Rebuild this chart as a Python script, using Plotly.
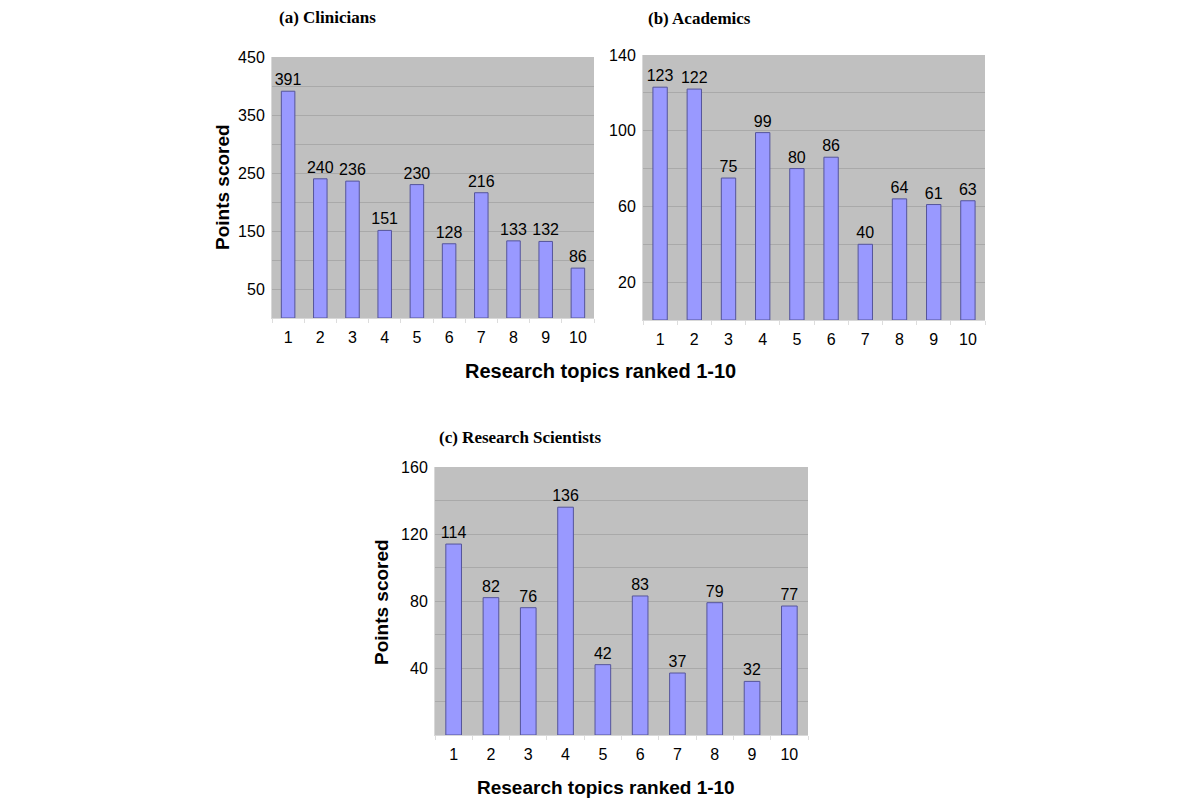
import plotly.graph_objects as go

topics = list(range(1, 11))
clinicians = [391, 240, 236, 151, 230, 128, 216, 133, 132, 86]
academics = [123, 122, 75, 99, 80, 86, 40, 64, 61, 63]
scientists = [114, 82, 76, 136, 42, 83, 37, 79, 32, 77]

titles = ["(a) Clinicians", "(b) Academics", "(c) Research Scientists"]
y_title = "Points scored"
x_title = "Research topics ranked 1-10"

OFF = 8  # page body margin
W, H = 1200 - 2 * OFF, 807 - 2 * OFF
SANS = "Liberation Sans, Arial, sans-serif"
SERIF = "Liberation Serif, Times New Roman, serif"

def px(x):
    return (x - OFF) / W

def py(y):
    return 1 - (y - OFF) / H

panels = [
    # data, x0, x1, ytop, ybot, ymax, label ticks, grid step
    (clinicians, 272, 594, 57, 318, 450, [50, 150, 250, 350, 450], 50),
    (academics, 643, 985, 55, 320, 140, [20, 60, 100, 140], 20),
    (scientists, 435, 808, 467, 735, 160, [40, 80, 120, 160], 20),
]

fig = go.Figure()
layout = dict(
    width=W, height=H,
    margin=dict(l=0, r=0, t=0, b=0, autoexpand=False),
    paper_bgcolor="white",
    plot_bgcolor="#C0C0C0",
    showlegend=False,
    font=dict(family=SANS, color="black"),
)

annotations = []
for i, (vals, x0, x1, yt, yb, ymax, ticks, step) in enumerate(panels):
    n = "" if i == 0 else str(i + 1)
    fig.add_trace(go.Bar(
        x=topics, y=vals, xaxis="x" + n, yaxis="y" + n,
        width=0.42,
        marker=dict(color="#9999FF", line=dict(color="#55559A", width=1)),
        text=vals, textposition="outside", cliponaxis=False,
        constraintext="none",
        textfont=dict(family=SANS, size=16, color="black"),
        hoverinfo="skip",
    ))
    layout["xaxis" + n] = dict(
        domain=[px(x0), px(x1)], anchor="y" + n, automargin=False,
        range=[0.5, 10.5], tickvals=topics, ticks="",
        showgrid=False, zeroline=False,
        showline=True, linecolor="#D8D8D8", linewidth=1,
        tickfont=dict(family=SANS, size=16, color="black"),
        ticklabelstandoff=5,
        minor=dict(tickvals=[k + 0.5 for k in range(0, 11)], ticks="outside",
                   ticklen=4, tickcolor="#DDDDDD", showgrid=False),
    )
    layout["yaxis" + n] = dict(
        domain=[py(yb), py(yt)], anchor="x" + n, automargin=False,
        range=[0, ymax], tickvals=ticks, ticks="",
        showgrid=True, gridcolor="#A9A9A9", gridwidth=1,
        zeroline=False, showline=True, linecolor="#D8D8D8", linewidth=1,
        tickfont=dict(family=SANS, size=16, color="black"),
        ticklabelstandoff=3,
        minor=dict(dtick=step, tick0=0, showgrid=True, gridcolor="#A9A9A9", gridwidth=1),
    )

# panel titles
for txt, x, y in [(titles[0], 277, 17), (titles[1], 646, 18), (titles[2], 437, 437)]:
    annotations.append(dict(text="<b>%s</b>" % txt, x=px(x), y=py(y), xref="paper", yref="paper",
                            xanchor="left", yanchor="middle", showarrow=False,
                            font=dict(family=SERIF, size=17, color="black")))
# axis titles
for x, y in [(222, 187), (381, 602)]:
    annotations.append(dict(text="<b>%s</b>" % y_title, x=px(x), y=py(y), xref="paper", yref="paper",
                            xanchor="center", yanchor="middle", showarrow=False, textangle=-90,
                            font=dict(family=SANS, size=19, color="black")))
for x, y, s in [(600, 371, 20), (606, 787, 19)]:
    annotations.append(dict(text="<b>%s</b>" % x_title, x=px(x), y=py(y), xref="paper", yref="paper",
                            xanchor="center", yanchor="middle", showarrow=False,
                            font=dict(family=SANS, size=s, color="black")))

layout["annotations"] = annotations
fig.update_layout(**layout)
fig.write_html("out.html")
